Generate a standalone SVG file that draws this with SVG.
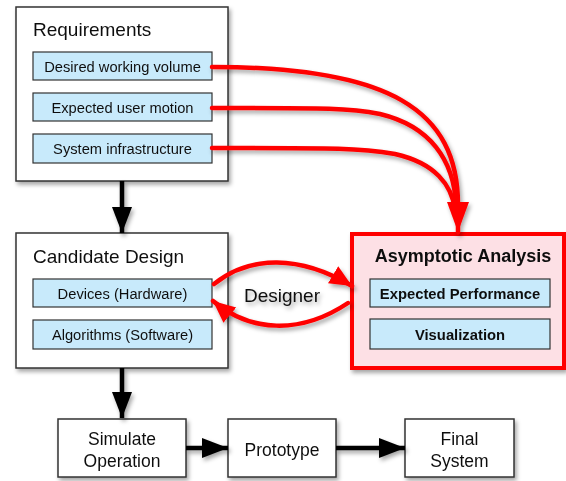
<svg xmlns="http://www.w3.org/2000/svg" width="566" height="481" viewBox="0 0 566 481">
<style>
.box{fill:#fff;stroke:#333;stroke-width:1.5}
.sub{fill:#c8eafb;stroke:#333;stroke-width:1.2}
.title{font-family:"Liberation Sans",Arial,sans-serif;font-size:19px;fill:#111}
.lbl{font-family:"Liberation Sans",Arial,sans-serif;font-size:14.7px;fill:#111;text-anchor:middle}
.blbl{font-family:"Liberation Sans",Arial,sans-serif;font-size:14.8px;font-weight:bold;fill:#111;text-anchor:middle}
.big{font-family:"Liberation Sans",Arial,sans-serif;font-size:17.5px;fill:#111;text-anchor:middle}
.red{fill:none;stroke:#ff0000;stroke-width:4.5;stroke-linecap:round}
.blk{fill:none;stroke:#000;stroke-width:4.5}
</style>
<defs>
<filter id="sh" x="-10%" y="-10%" width="130%" height="130%">
<feDropShadow dx="2" dy="3" stdDeviation="2" flood-color="#000" flood-opacity="0.35"/>
</filter>
<marker id="bh" markerUnits="userSpaceOnUse" markerWidth="28" markerHeight="22" refX="26" refY="10" orient="auto">
<path d="M0,0 L26,10 L0,20 Z" fill="#000"/>
</marker>
<marker id="rh" markerUnits="userSpaceOnUse" markerWidth="32" markerHeight="24" refX="30" refY="11" orient="auto">
<path d="M0,0 L30,11 L0,22 Z" fill="#ff0000"/>
</marker>
<marker id="rs" markerUnits="userSpaceOnUse" markerWidth="24" markerHeight="22" refX="22" refY="10" orient="auto">
<path d="M0,0 L22,10 L0,20 Z" fill="#ff0000"/>
</marker>
</defs>

<g id="requirements" filter="url(#sh)">
<rect class="box" x="16" y="7" width="212" height="174"/>
<text class="title" x="33" y="36">Requirements</text>
<rect class="sub" x="33" y="52" width="179" height="28"/>
<text class="lbl" x="122.5" y="71.5">Desired working volume</text>
<rect class="sub" x="33" y="93" width="179" height="28"/>
<text class="lbl" x="122.5" y="112.5">Expected user motion</text>
<rect class="sub" x="33" y="134" width="179" height="29"/>
<text class="lbl" x="122.5" y="153.5">System infrastructure</text>
</g>

<g id="candidate" filter="url(#sh)">
<rect class="box" x="16" y="233" width="212" height="135"/>
<text class="title" x="33" y="263">Candidate Design</text>
<rect class="sub" x="33" y="279" width="179" height="28"/>
<text class="lbl" x="122.5" y="298.5">Devices (Hardware)</text>
<rect class="sub" x="33" y="320" width="179" height="29"/>
<text class="lbl" x="122.5" y="339.5">Algorithms (Software)</text>
</g>

<g id="asymptotic" filter="url(#sh)">
<rect x="352" y="234" width="212" height="134" fill="#fde0e5" stroke="#ff0000" stroke-width="4"/>
<text x="463" y="262" font-family="'Liberation Sans',Arial,sans-serif" font-size="18" font-weight="bold" fill="#111" text-anchor="middle">Asymptotic Analysis</text>
<rect class="sub" x="370" y="279" width="180" height="28"/>
<text class="blbl" x="460" y="298.5">Expected Performance</text>
<rect class="sub" x="370" y="319" width="180" height="30"/>
<text class="blbl" x="460" y="339.5">Visualization</text>
</g>

<g id="simulate" filter="url(#sh)">
<rect class="box" x="58" y="419" width="128" height="58"/>
<text class="big" x="122" y="445">Simulate</text>
<text class="big" x="122" y="467">Operation</text>
</g>

<g id="prototype" filter="url(#sh)">
<rect class="box" x="228" y="419" width="108" height="58"/>
<text class="big" x="282" y="456">Prototype</text>
</g>

<g id="final" filter="url(#sh)">
<rect class="box" x="405" y="419" width="109" height="58"/>
<text class="big" x="459.5" y="445">Final</text>
<text class="big" x="459.5" y="467">System</text>
</g>

<g id="connectors" filter="url(#sh)">
<path class="blk" d="M122,181 L122,233" marker-end="url(#bh)"/>
<path class="blk" d="M122,368 L122,418" marker-end="url(#bh)"/>
<path class="blk" d="M186,448 L228,448" marker-end="url(#bh)"/>
<path class="blk" d="M336,448 L405,448" marker-end="url(#bh)"/>
<path class="red" d="M212,67 C390,67 458,110 458,205 L458,232" marker-end="url(#rh)"/>
<path class="red" d="M212,108 C330,108 350,108 380,114 C430,126 454,160 456,205"/>
<path class="red" d="M212,148 C340,148 360,148 395,154 C435,163 452,185 455,210"/>
<path class="red" d="M214,284 C250,255 300,255 352,286" marker-end="url(#rs)"/>
<path class="red" d="M348,303 C300,335 250,332 213,301" marker-end="url(#rs)"/>
<text x="282" y="302" font-family="'Liberation Sans',Arial,sans-serif" font-size="19" fill="#111" text-anchor="middle">Designer</text>
</g>
</svg>
